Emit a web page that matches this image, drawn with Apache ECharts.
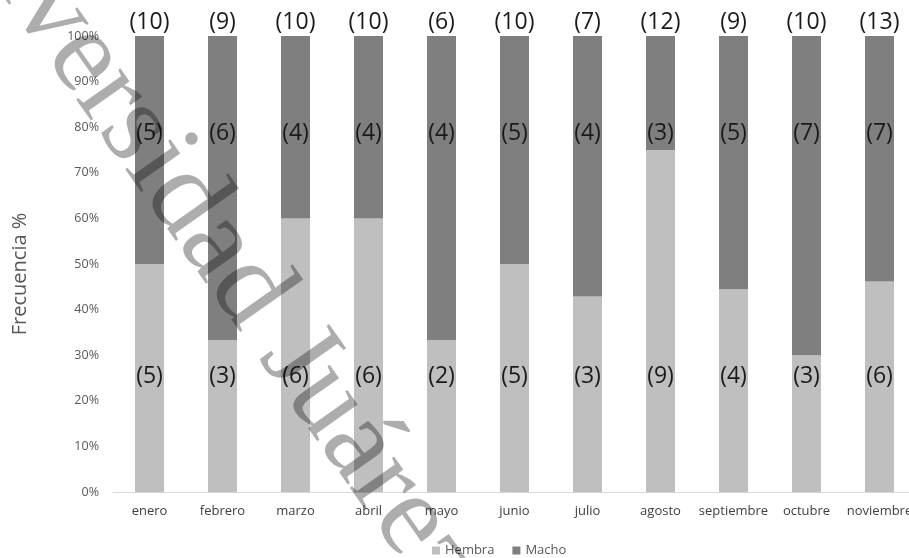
<!DOCTYPE html>
<html>
<head>
<meta charset="utf-8">
<script src="https://cdn.jsdelivr.net/npm/echarts@6/dist/echarts.min.js"></script>
<style>
  html, body { margin: 0; padding: 0; background: #ffffff; }
  #chart { width: 909px; height: 558px; }
</style>
</head>
<body>
<div id="chart"></div>
<script>
// Monthly sample counts by sex
const months = ['enero', 'febrero', 'marzo', 'abril', 'mayo', 'junio', 'julio', 'agosto', 'septiembre', 'octubre', 'noviembre'];
const hembra = [5, 3, 6, 6, 2, 5, 3, 9, 4, 3, 6];
const macho  = [5, 6, 4, 4, 4, 5, 4, 3, 5, 7, 7];
const yTicks = [0, 10, 20, 30, 40, 50, 60, 70, 80, 90, 100];

const totals = months.map((_, i) => hembra[i] + macho[i]);
const hembraPct = months.map((_, i) => hembra[i] / totals[i] * 100);
const machoPct  = months.map((_, i) => macho[i] / totals[i] * 100);

const FONT = '"Open Sans", "Noto Sans", sans-serif';
const countLabel = {
  show: true,
  color: '#1a1a1a',
  fontFamily: FONT,
  fontSize: 23,
  lineHeight: 24
};

const chart = echarts.init(document.getElementById('chart'), null, { renderer: 'canvas' });
chart.setOption({
  animation: false,
  backgroundColor: '#ffffff',
  textStyle: { fontFamily: FONT },
  grid: { left: 113, right: -7, top: 36, bottom: 66, containLabel: false, outerBoundsMode: 'none' },
  legend: {
    left: 427,
    top: 539,
    itemWidth: 8,
    itemHeight: 8,
    itemGap: 18,
    icon: 'rect',
    textStyle: { color: '#595959', fontSize: 13, fontFamily: FONT },
    data: ['Hembra', 'Macho']
  },
  xAxis: {
    type: 'category',
    data: months,
    axisLine: { lineStyle: { color: '#d9d9d9', width: 1 } },
    axisTick: { show: false },
    axisLabel: { color: '#404040', fontSize: 13, margin: 13, fontFamily: FONT, interval: 0 }
  },
  yAxis: {
    type: 'value',
    min: yTicks[0],
    max: yTicks[yTicks.length - 1],
    interval: yTicks[1] - yTicks[0],
    name: 'Frecuencia %',
    nameLocation: 'middle',
    nameRotate: 90,
    nameGap: 83,
    nameTextStyle: { color: '#595959', fontSize: 20, fontFamily: FONT, padding: [0, 20, 0, 0] },
    axisLine: { show: false },
    axisTick: { show: false },
    splitLine: { show: false },
    axisLabel: { color: '#595959', fontSize: 12.5, margin: 14, formatter: '{value}%', fontFamily: FONT }
  },
  series: [
    {
      name: 'Hembra',
      type: 'bar',
      stack: 'sexo',
      barWidth: 29,
      itemStyle: { color: '#bfbfbf' },
      label: Object.assign({}, countLabel, {
        position: 'insideBottom',
        distance: 104,
        formatter: p => '(' + hembra[p.dataIndex] + ')'
      }),
      data: hembraPct
    },
    {
      name: 'Macho',
      type: 'bar',
      stack: 'sexo',
      barWidth: 29,
      itemStyle: { color: '#7f7f7f' },
      label: Object.assign({}, countLabel, {
        position: 'insideTop',
        distance: 85,
        formatter: p => '(' + macho[p.dataIndex] + ')'
      }),
      data: machoPct
    },
    {
      // zero-height cap that carries the monthly total above each column
      name: 'Total',
      type: 'bar',
      stack: 'sexo',
      barWidth: 29,
      itemStyle: { color: 'rgba(0,0,0,0)' },
      label: Object.assign({}, countLabel, {
        position: 'top',
        distance: 2,
        formatter: p => '(' + totals[p.dataIndex] + ')'
      }),
      data: months.map(() => 0)
    }
  ],
  graphic: [
    {
      type: 'text',
      z: 100,
      silent: true,
      x: -18,
      y: -190,
      rotation: -54.8 * Math.PI / 180,
      style: {
        text: 'Universidad Juárez Autónoma de Tabasco',
        font: '118px "Liberation Serif", "DejaVu Serif", serif',
        fill: 'rgba(0,0,0,0.32)',
        textBaseline: 'middle',
        textAlign: 'left'
      }
    }
  ]
});
</script>
</body>
</html>
